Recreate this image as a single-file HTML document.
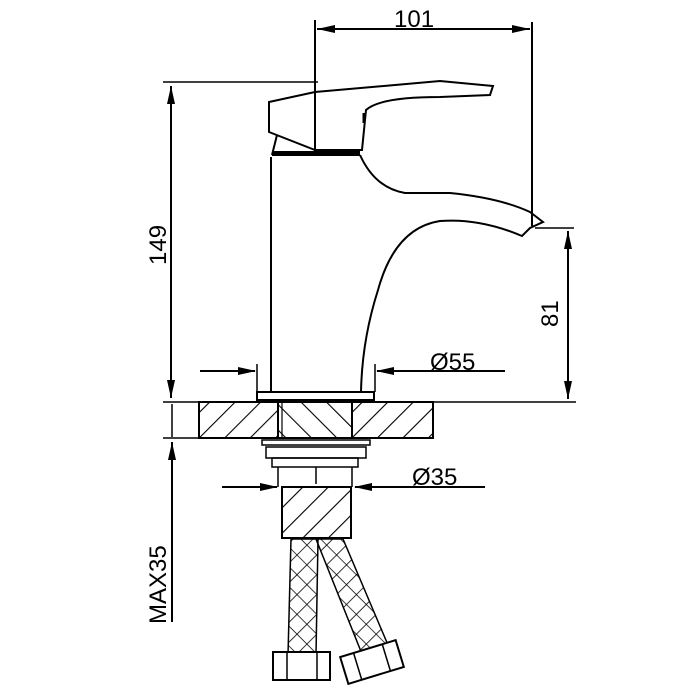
<!DOCTYPE html>
<html><head><meta charset="utf-8"><style>html,body{margin:0;padding:0;background:#fff}svg{display:block}</style></head>
<body>
<svg width="700" height="700" viewBox="0 0 700 700" xmlns="http://www.w3.org/2000/svg">
<defs>
<pattern id="h1" width="18" height="18" patternUnits="userSpaceOnUse" patternTransform="rotate(45)"><line x1="0" y1="0" x2="0" y2="18" stroke="#000" stroke-width="2.2"/></pattern>
<pattern id="h2" width="18" height="18" patternUnits="userSpaceOnUse" patternTransform="rotate(-45)"><line x1="0" y1="0" x2="0" y2="18" stroke="#000" stroke-width="2.2"/></pattern>
<pattern id="x" width="14" height="14" patternUnits="userSpaceOnUse" patternTransform="rotate(45)"><path d="M0,0V14M0,0H14" stroke="#000" stroke-width="1.6" fill="none"/></pattern>
</defs>
<g fill="none" stroke="#000" stroke-width="2">
<!-- dims -->
<line x1="315" y1="20" x2="315" y2="153"/>
<line x1="532" y1="22" x2="532" y2="226"/>
<line x1="317" y1="29" x2="530" y2="29"/>
<line x1="163" y1="82" x2="318" y2="82" stroke-width="1.5"/>
<line x1="171" y1="86" x2="171" y2="398"/>
<line x1="535" y1="228" x2="574" y2="228" stroke-width="1.5"/>
<line x1="568" y1="231" x2="568" y2="399"/>
<line x1="200" y1="371" x2="255" y2="371"/>
<line x1="505" y1="371" x2="377" y2="371"/>
<line x1="257" y1="364" x2="257" y2="392" stroke-width="1.5"/>
<line x1="375" y1="364" x2="375" y2="392" stroke-width="1.5"/>
<line x1="172" y1="404" x2="172" y2="437" stroke-width="1.5"/>
<line x1="172" y1="442" x2="172" y2="622"/>
<line x1="222" y1="487" x2="277" y2="487"/>
<line x1="485" y1="487" x2="355" y2="487"/>
<!-- handle -->
<path d="M269,102 L315,92 L440,81 L493,86 L490,95 L440,97 Q380,97 366,110 L362,150 L315,150 L269,132 Z"/>
<path d="M277,135 L272,155"/>
<path d="M364,113 v10" stroke-width="3"/>
<rect x="272" y="151" width="88" height="5" fill="#000" stroke="none"/>
<!-- body -->
<path d="M271,157 V392"/>
<path d="M360,155 Q375,188 405,193 L450,193 Q500,198 530,212 L543,222 L530,228 L522,236 Q480,218 440,221 Q395,228 378,290 Q362,340 361,392"/>
<rect x="257" y="392" width="117" height="8"/>
<!-- countertop -->
<line x1="163" y1="402" x2="576" y2="402" stroke-width="1.5"/>
<line x1="163" y1="438" x2="433" y2="438" stroke-width="1.5"/>
<rect x="199" y="402" width="234" height="36" fill="url(#h1)"/>
<rect x="278" y="402" width="74" height="36" fill="#fff"/>
<rect x="278" y="402" width="74" height="36" fill="url(#h2)"/>
<line x1="282" y1="402" x2="282" y2="438" stroke-width="1.2"/>
<line x1="352" y1="402" x2="352" y2="438" stroke-width="1.2"/>
<!-- nut -->
<path d="M262,440 H370 V445 H262 Z" stroke-width="1.5"/>
<path d="M266,447 H366 V458 H266 Z" stroke-width="1.5"/>
<path d="M272,458 H358 V467 H272 Z" stroke-width="1.5"/>
<path d="M278,467 V487 M352,467 V487 M316,467 V484" stroke-width="1.5"/>
<rect x="282" y="487" width="69" height="51" fill="url(#h1)"/>
<!-- hoses -->
<path d="M291,539 L318,539 L316,655 L288,655 Z" fill="url(#x)" stroke-width="1.5"/>
<path d="M316,539 L343,539 L388,645 L362,654 Z" fill="url(#x)" stroke-width="1.5"/>
<rect x="273" y="652" width="57" height="28" fill="#fff"/>
<line x1="287" y1="652" x2="287" y2="680" stroke-width="1.5"/>
<line x1="317" y1="652" x2="317" y2="680" stroke-width="1.5"/>
<g transform="rotate(-17 372 662)"><rect x="343" y="648" width="58" height="28" fill="#fff"/><line x1="357" y1="648" x2="357" y2="676" stroke-width="1.5"/><line x1="387" y1="648" x2="387" y2="676" stroke-width="1.5"/></g>
</g>
<g fill="#000">
<path d="M317,29l18,-4v8z M530,29l-18,-4v8z"/>
<path d="M171,86l-4,18h8z M171,398l-4,-18h8z"/>
<path d="M568,231l-4,18h8z M568,399l-4,-18h8z"/>
<path d="M256,371l-18,-4v8z M376,371l18,-4v8z"/>
<path d="M172,442l-4,18h8z"/>
<path d="M278,487l-18,-4v8z M354,487l18,-4v8z"/>
</g>
<g font-family="Liberation Sans, sans-serif" font-size="24" fill="#000">
<text x="394" y="27">101</text>
<text x="430" y="370">Ø55</text>
<text x="412" y="485">Ø35</text>
<text transform="translate(166,265) rotate(-90)">149</text>
<text transform="translate(558,327) rotate(-90)">81</text>
<text transform="translate(166,624) rotate(-90)">MAX35</text>
</g>
</svg>
</body></html>
